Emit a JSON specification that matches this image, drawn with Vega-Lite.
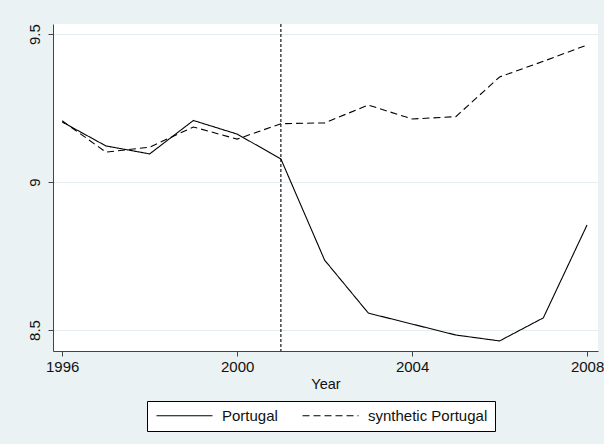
{
  "$schema": "https://vega.github.io/schema/vega-lite/v6.json",
  "autosize": {"type": "none"},
  "width": 545,
  "height": 327,
  "padding": {"left": 53, "top": 24, "right": 6, "bottom": 93},
  "background": "#eaf2f3",
  "config": {
    "font": "Liberation Sans",
    "view": {"fill": "white", "stroke": null},
    "axis": {
      "labelFont": "Liberation Sans",
      "titleFont": "Liberation Sans",
      "labelFontSize": 15,
      "titleFontSize": 14.5,
      "labelColor": "#111",
      "titleColor": "#111",
      "titleFontWeight": "normal",
      "domainColor": "#444",
      "tickColor": "#444",
      "tickSize": 5
    }
  },
  "datasets": {
    "series": [
      {"year": 1996, "value": 9.203, "series": "Portugal"},
      {"year": 1997, "value": 9.122, "series": "Portugal"},
      {"year": 1998, "value": 9.095, "series": "Portugal"},
      {"year": 1999, "value": 9.208, "series": "Portugal"},
      {"year": 2000, "value": 9.162, "series": "Portugal"},
      {"year": 2001, "value": 9.078, "series": "Portugal"},
      {"year": 2002, "value": 8.736, "series": "Portugal"},
      {"year": 2003, "value": 8.557, "series": "Portugal"},
      {"year": 2004, "value": 8.520, "series": "Portugal"},
      {"year": 2005, "value": 8.483, "series": "Portugal"},
      {"year": 2006, "value": 8.463, "series": "Portugal"},
      {"year": 2007, "value": 8.541, "series": "Portugal"},
      {"year": 2008, "value": 8.855, "series": "Portugal"},
      {"year": 1996, "value": 9.207, "series": "synthetic Portugal"},
      {"year": 1997, "value": 9.101, "series": "synthetic Portugal"},
      {"year": 1998, "value": 9.118, "series": "synthetic Portugal"},
      {"year": 1999, "value": 9.186, "series": "synthetic Portugal"},
      {"year": 2000, "value": 9.145, "series": "synthetic Portugal"},
      {"year": 2001, "value": 9.197, "series": "synthetic Portugal"},
      {"year": 2002, "value": 9.200, "series": "synthetic Portugal"},
      {"year": 2003, "value": 9.260, "series": "synthetic Portugal"},
      {"year": 2004, "value": 9.213, "series": "synthetic Portugal"},
      {"year": 2005, "value": 9.221, "series": "synthetic Portugal"},
      {"year": 2006, "value": 9.355, "series": "synthetic Portugal"},
      {"year": 2007, "value": 9.408, "series": "synthetic Portugal"},
      {"year": 2008, "value": 9.463, "series": "synthetic Portugal"}
    ],
    "treat": [{"year": 2001}]
  },
  "layer": [
    {
      "data": {"name": "series"},
      "mark": {"type": "line", "color": "black", "strokeWidth": 1.1},
      "encoding": {
        "x": {
          "field": "year", "type": "quantitative",
          "scale": {"domain": [1995.79, 2008.25], "nice": false, "zero": false},
          "axis": {"values": [1996, 2000, 2004, 2008], "format": "d", "title": "Year", "grid": false, "labelPadding": 3, "titlePadding": 3, "labelFlush": false}
        },
        "y": {
          "field": "value", "type": "quantitative",
          "scale": {"domain": [8.429, 9.534], "nice": false, "zero": false},
          "axis": {"values": [8.5, 9, 9.5], "format": "~g", "title": null, "grid": true, "gridColor": "#e3edef", "gridWidth": 1, "labelAngle": -90, "labelAlign": "center", "labelBaseline": "bottom", "labelPadding": 6, "labelFlush": false}
        },
        "strokeDash": {
          "field": "series", "type": "nominal",
          "scale": {"domain": ["Portugal", "synthetic Portugal"], "range": [[1, 0], [7, 4]]},
          "legend": {
            "title": null,
            "orient": "none",
            "legendX": 94,
            "legendY": 377,
            "direction": "horizontal",
            "symbolType": "M-14,0L14,0",
            "symbolSize": 16,
            "symbolOffset": 23,
            "symbolStrokeColor": "black",
            "symbolStrokeWidth": 1.1,
            "labelFontSize": 15,
            "labelFont": "Liberation Sans",
            "labelColor": "#111",
            "labelOffset": 30,
            "columnPadding": 22,
            "padding": 7,
            "strokeColor": "black",
            "fillColor": "white"
          }
        }
      }
    },
    {
      "data": {"name": "treat"},
      "mark": {"type": "rule", "color": "black", "strokeWidth": 1.1, "strokeDash": [3, 2]},
      "encoding": {"x": {"field": "year", "type": "quantitative"}}
    }
  ]
}
